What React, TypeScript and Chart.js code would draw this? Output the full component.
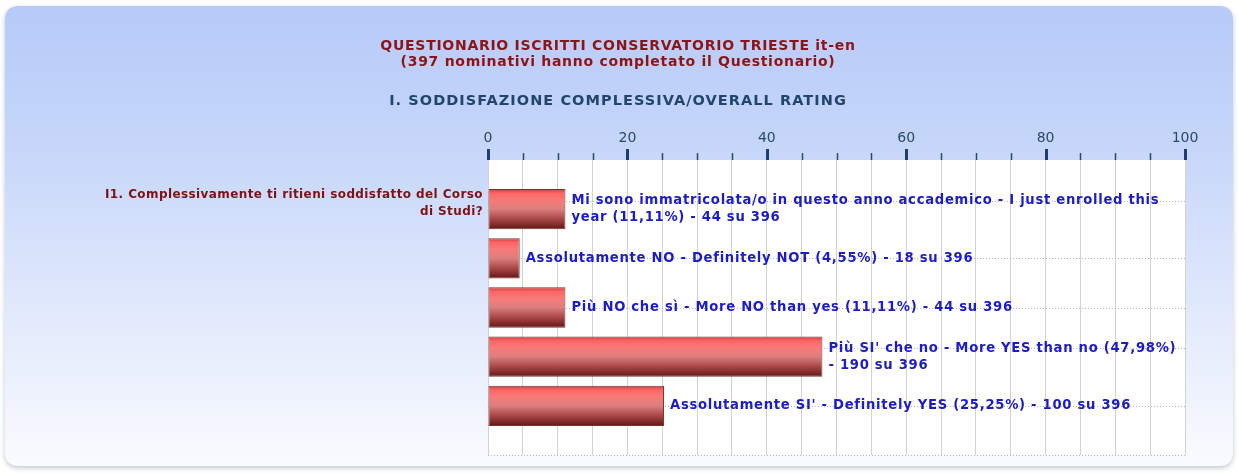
import { useEffect, useRef } from 'react';
import { Chart, registerables } from 'chart.js';

Chart.register(...registerables);

const TITLE_LINES = [
  'QUESTIONARIO ISCRITTI CONSERVATORIO TRIESTE it-en',
  '(397 nominativi hanno completato il Questionario)',
];
const SUBTITLE = 'I. SODDISFAZIONE COMPLESSIVA/OVERALL RATING';
const QUESTION = 'I1. Complessivamente ti ritieni soddisfatto del Corso di Studi?';

const categories = [
  'Mi sono immatricolata/o in questo anno accademico - I just enrolled this year',
  'Assolutamente NO - Definitely NOT',
  'Più NO che sì - More NO than yes',
  "Più SI' che no - More YES than no",
  "Assolutamente SI' - Definitely YES",
];
const percentages = [11.11, 4.55, 11.11, 47.98, 25.25];
const counts = [44, 18, 44, 190, 100];
const TOTAL = 396;

const X_MIN = 0;
const X_MAX = 100;
const X_MINOR_STEP = 5;
const X_MAJOR_STEP = 20;

const FONT = '"DejaVu Sans", Verdana, sans-serif';
const LABEL_FONT = `bold 13.2px ${FONT}`;
const LABEL_SPACING = '0.7px';

function wrapText(ctx: CanvasRenderingContext2D, text: string, maxW: number): string[] {
  const words = text.split(' ');
  const lines: string[] = [];
  let cur = '';
  for (const w of words) {
    const test = cur ? cur + ' ' + w : w;
    if (cur && ctx.measureText(test).width > maxW) {
      lines.push(cur);
      cur = w;
    } else {
      cur = test;
    }
  }
  if (cur) lines.push(cur);
  return lines;
}

function fmtPct(v: number): string {
  return v.toFixed(2).replace('.', ',');
}

const labelTexts = categories.map(
  (c, i) => `${c} (${fmtPct(percentages[i])}%) - ${counts[i]} su ${TOTAL}`
);

const LINE_H = 17;

function setSpacing(ctx: any, s: string) {
  if ('letterSpacing' in ctx) ctx.letterSpacing = s;
}

const decorPlugin = {
  id: 'decor',
  beforeDraw(chart: any) {
    const { ctx, width, height, chartArea } = chart;
    ctx.save();
    ctx.fillStyle = '#ffffff';
    ctx.fillRect(0, 0, width, height);
    const x0 = 5, y0 = 6, x1 = width - 5, y1 = height - 7, r = 14;
    const rr = (ax: number, ay: number, bx: number, by: number, rad: number) => {
      ctx.beginPath();
      ctx.moveTo(ax + rad, ay);
      ctx.lineTo(bx - rad, ay);
      ctx.quadraticCurveTo(bx, ay, bx, ay + rad);
      ctx.lineTo(bx, by - rad);
      ctx.quadraticCurveTo(bx, by, bx - rad, by);
      ctx.lineTo(ax + rad, by);
      ctx.quadraticCurveTo(ax, by, ax, by - rad);
      ctx.lineTo(ax, ay + rad);
      ctx.quadraticCurveTo(ax, ay, ax + rad, ay);
      ctx.closePath();
    };
    ctx.shadowColor = 'rgba(120,130,150,0.45)';
    ctx.shadowBlur = 5;
    ctx.shadowOffsetY = 2;
    const g = ctx.createLinearGradient(0, y0, 0, y1);
    g.addColorStop(0, '#b7caf8');
    g.addColorStop(0.3, '#c6d6fa');
    g.addColorStop(0.7, '#e4ebfc');
    g.addColorStop(1, '#fafbff');
    ctx.fillStyle = g;
    rr(x0, y0, x1, y1, r);
    ctx.fill();
    ctx.shadowColor = 'transparent';
    ctx.fillStyle = '#ffffff';
    ctx.fillRect(chartArea.left, chartArea.top, chartArea.right - chartArea.left, chartArea.bottom - chartArea.top);

    ctx.textAlign = 'center';
    ctx.textBaseline = 'middle';
    const cx = width / 2;
    ctx.fillStyle = '#8b1414';
    ctx.font = `bold 14px ${FONT}`;
    setSpacing(ctx, '0.72px');
    ctx.fillText(TITLE_LINES[0], cx - 1, 46);
    ctx.fillText(TITLE_LINES[1], cx - 1, 62);
    ctx.fillStyle = '#22456a';
    ctx.font = `bold 14.5px ${FONT}`;
    setSpacing(ctx, '1.05px');
    ctx.fillText(SUBTITLE, cx - 1, 101);
    ctx.restore();
  },
  beforeDatasetsDraw(chart: any) {
    const { ctx, chartArea } = chart;
    const xs = chart.scales.x;
    const meta = chart.getDatasetMeta(0);
    ctx.save();
    for (let v = X_MIN; v <= X_MAX; v += X_MINOR_STEP) {
      const px = Math.round(xs.getPixelForValue(v)) + 0.5;
      const major = v % X_MAJOR_STEP === 0;
      ctx.beginPath();
      ctx.strokeStyle = major ? '#1f3f6a' : '#2a4a6a';
      ctx.lineWidth = major ? 3 : 1.5;
      ctx.moveTo(px, chartArea.top - (major ? 11 : 7));
      ctx.lineTo(px, chartArea.top);
      ctx.stroke();
    }
    ctx.font = LABEL_FONT;
    setSpacing(ctx, LABEL_SPACING);
    ctx.strokeStyle = '#b4b4b4';
    ctx.lineWidth = 1;
    ctx.setLineDash([1, 2]);
    meta.data.forEach((el: any, i: number) => {
      const idx = i - 1;
      if (idx < 0 || idx >= labelTexts.length) return;
      const sx = el.x + 6;
      const lines = wrapText(ctx, labelTexts[idx], chartArea.right - sx);
      const y = Math.round(el.y - ((lines.length - 1) * LINE_H) / 2) + 0.5;
      ctx.beginPath();
      ctx.moveTo(chartArea.left, y);
      ctx.lineTo(chartArea.right, y);
      ctx.stroke();
    });
    const yb = Math.round(chartArea.bottom) + 0.5;
    ctx.beginPath();
    ctx.moveTo(chartArea.left, yb);
    ctx.lineTo(chartArea.right, yb);
    ctx.stroke();
    ctx.restore();
  },
  afterDatasetsDraw(chart: any) {
    const { ctx, chartArea } = chart;
    const meta = chart.getDatasetMeta(0);
    const ys = chart.scales.y;
    ctx.save();
    ctx.textBaseline = 'middle';
    ctx.textAlign = 'left';
    ctx.font = LABEL_FONT;
    setSpacing(ctx, LABEL_SPACING);
    ctx.fillStyle = '#1c1cc8';
    meta.data.forEach((el: any, i: number) => {
      const idx = i - 1;
      if (idx < 0 || idx >= labelTexts.length) return;
      const sx = el.x + 6;
      const lines = wrapText(ctx, labelTexts[idx], chartArea.right - sx);
      const y0 = el.y - ((lines.length - 1) * LINE_H) / 2;
      lines.forEach((ln, k) => ctx.fillText(ln, sx, y0 + k * LINE_H));
    });
    ctx.font = `bold 12px ${FONT}`;
    setSpacing(ctx, '0.4px');
    ctx.fillStyle = '#7c1212';
    ctx.textAlign = 'right';
    const qx = chartArea.left - 5;
    const qLines = wrapText(ctx, QUESTION, 385);
    const qc = ys.getPixelForValue(1) - 6;
    const qy0 = qc - ((qLines.length - 1) * LINE_H) / 2;
    qLines.forEach((ln, k) => ctx.fillText(ln, qx, qy0 + k * LINE_H));
    ctx.restore();
  },
};

export default function App() {
  const ref = useRef<HTMLCanvasElement>(null);
  useEffect(() => {
    if (!ref.current) return;
    const yLabels = ['', ...categories, ''];
    const data = [null, ...percentages, null];
    const chart = new Chart(ref.current, {
      type: 'bar',
      data: {
        labels: yLabels,
        datasets: [
          {
            data: data as any,
            borderColor: '#7a3434',
            borderWidth: 1,
            borderSkipped: false,
            barPercentage: 0.82,
            categoryPercentage: 1,
            backgroundColor: (c: any) => {
              const chartObj = c.chart;
              const ys = chartObj.scales?.y;
              if (!ys || c.dataIndex === undefined) return '#d05050';
              const cy = ys.getPixelForValue(c.dataIndex);
              const area = chartObj.chartArea;
              if (!Number.isFinite(cy) || !area) return '#d05050';
              const h = 20;
              const g = chartObj.ctx.createLinearGradient(0, cy - h, 0, cy + h);
              g.addColorStop(0, '#c84040');
              g.addColorStop(0.1, '#ff6464');
              g.addColorStop(0.28, '#f87a7a');
              g.addColorStop(0.5, '#dc7e7e');
              g.addColorStop(0.75, '#a84646');
              g.addColorStop(1, '#641616');
              return g;
            },
          },
        ],
      },
      options: {
        indexAxis: 'y',
        animation: false,
        responsive: false,
        maintainAspectRatio: false,
        events: [],
        layout: { padding: { left: 488, right: 53, top: 120, bottom: 18 } },
        plugins: {
          legend: { display: false },
          title: { display: false },
          tooltip: { enabled: false },
        },
        scales: {
          x: {
            type: 'linear',
            position: 'top',
            min: X_MIN,
            max: X_MAX,
            afterFit: (axis: any) => {
              axis.height = 40;
            },
            ticks: {
              stepSize: X_MINOR_STEP,
              autoSkip: false,
              maxRotation: 0,
              padding: 13,
              color: '#2a4a6a',
              font: { family: FONT, size: 14 },
              callback: (v: any) => (Number(v) % X_MAJOR_STEP === 0 ? String(v) : ''),
            },
            grid: {
              color: '#d2d2d2',
              lineWidth: 1,
              drawTicks: false,
            },
            border: { display: false },
          },
          y: {
            type: 'category',
            display: false,
            offset: false,
            grid: { display: false },
          },
        },
      },
      plugins: [decorPlugin],
    });
    return () => chart.destroy();
  }, []);
  return (
    <div style={{ position: 'absolute', left: 0, top: 0, width: 1238, height: 473 }}>
      <canvas ref={ref} width={1238} height={473} style={{ display: 'block' }} />
    </div>
  );
}
